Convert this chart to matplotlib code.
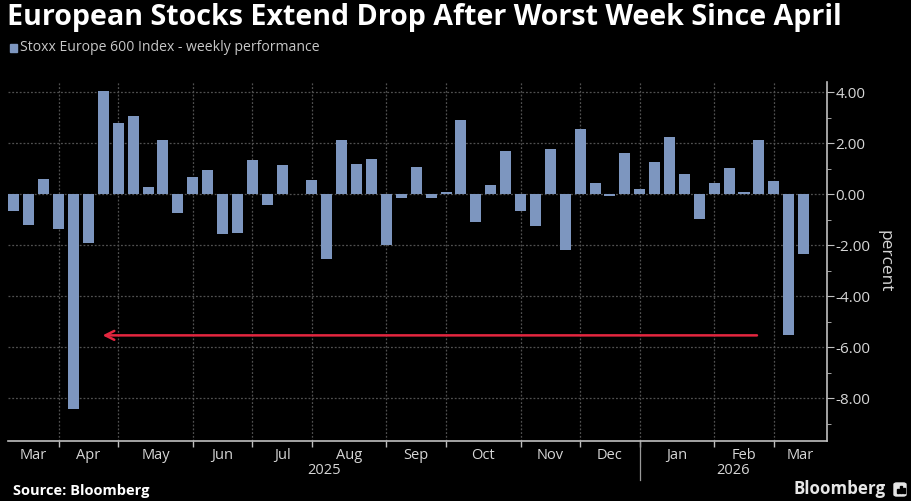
import matplotlib
matplotlib.use("Agg")
import matplotlib.pyplot as plt
import numpy as np
import pandas as pd
from matplotlib.patches import FancyBboxPatch, Rectangle

# ---------------- data ----------------
week_dates = pd.date_range("2025-03-07", "2026-03-13", freq="7D")
weekly_perf = [
    -0.65, -1.20, 0.59, -1.35, -8.42, -1.90, 4.03, 2.78, 3.07, 0.30,
    2.12, -0.72, 0.67, 0.95, -1.56, -1.53, 1.33, -0.44, 1.16, 0.03,
    0.56, -2.55, 2.12, 1.19, 1.40, -1.97, -0.14, 1.05, -0.13, 0.08,
    2.90, -1.10, 0.38, 1.70, -0.65, -1.24, 1.78, -2.20, 2.56, 0.43,
    -0.05, 1.61, 0.22, 1.28, 2.26, 0.78, -0.95, 0.44, 1.02, 0.10,
    2.12, 0.52, -5.53, -2.33,
]
month_labels = ["Mar", "Apr", "May", "Jun", "Jul", "Aug", "Sep", "Oct",
                "Nov", "Dec", "Jan", "Feb", "Mar"]
year_labels = ["2025", "2026"]
y_ticks = [4, 2, 0, -2, -4, -6, -8]
title = "European Stocks Extend Drop After Worst Week Since April"
legend_label = "Stoxx Europe 600 Index - weekly performance"
arrow_level = -5.53   # latest drop, compared with April

# ---------------- style ----------------
BG = "#000000"
BAR = "#7d96bf"
GRID = "#505050"
TXT = "#d6d6d6"
RED = "#e3263f"
FONT = ["Open Sans", "DejaVu Sans"]

fig = plt.figure(figsize=(9.12, 5.01), dpi=100, facecolor=BG)
ax = fig.add_axes([8 / 912, 1 - 441 / 501, (827 - 8) / 912, (441 - 82) / 501])
ax.set_facecolor(BG)

x = np.arange(len(weekly_perf))
ax.bar(x, weekly_perf, width=0.74, color=BAR, zorder=3)

xmin, xmax = -0.4, len(weekly_perf) + 0.57
ax.set_xlim(xmin, xmax)
ax.set_ylim(-9.67, 4.4)

# month boundaries: last weekly bar before a new month begins
months = week_dates.to_period("M")
bounds = [i for i in range(len(week_dates) - 1) if months[i + 1] != months[i]]
ax.set_xticks(bounds)
ax.set_xticklabels([])
ax.tick_params(axis="x", length=4, color="#bfbfbf", width=1, direction="out")
for b in bounds:
    ax.axvline(b, color=GRID, lw=0.9, ls=(0, (1.5, 1.5)), zorder=1)

# horizontal grid
for t in y_ticks:
    ax.axhline(t, color=GRID, lw=0.9, ls=(0, (1.5, 1.5)), zorder=1)

# y axis on right
ax.yaxis.tick_right()
ax.set_yticks(y_ticks)
ax.set_yticklabels([f"{t:.2f}" for t in y_ticks], fontsize=11, color=TXT,
                   family=FONT)
ax.set_yticks([3, 1, -1, -3, -5, -7, -9], minor=True)
ax.tick_params(axis="y", which="major", length=5, color="#bfbfbf", pad=1)
ax.tick_params(axis="y", which="minor", length=3, color="#bfbfbf")
ax.tick_params(axis="x", which="minor", length=0)

for s in ["top", "left"]:
    ax.spines[s].set_visible(False)
ax.spines["right"].set_color("#bfbfbf")
ax.spines["bottom"].set_color("#bfbfbf")
ax.spines["right"].set_linewidth(1.2)
ax.spines["bottom"].set_linewidth(1.2)

ax.set_ylabel("percent", rotation=270, color=TXT, fontsize=12.5,
              family=FONT, labelpad=16)
ax.yaxis.set_label_position("right")

# month labels centred between boundaries
edges = [xmin] + bounds + [xmax]
for i, lab in enumerate(month_labels):
    cx = (edges[i] + edges[i + 1]) / 2
    ax.text(cx, -0.02, lab, transform=ax.get_xaxis_transform(), ha="center",
            va="top", fontsize=10.5, color=TXT, family=FONT)

# year labels & separator
years = week_dates.year
year_break = [b for b in bounds if years[b + 1] != years[b]][0]
ax.text((xmin + year_break) / 2, -0.06, year_labels[0],
        transform=ax.get_xaxis_transform(), ha="center", va="top",
        fontsize=10.5, color=TXT, family=FONT)
ax.text((year_break + xmax) / 2, -0.06, year_labels[1],
        transform=ax.get_xaxis_transform(), ha="center", va="top",
        fontsize=10.5, color=TXT, family=FONT)
ax.plot([year_break, year_break], [0, -0.11], transform=ax.get_xaxis_transform(),
        color="#9a9a9a", lw=0.9, clip_on=False)

# red arrow from latest drop back to April
worst_idx = int(np.argmin(weekly_perf))
latest_drop_idx = len(weekly_perf) - 2
ax.annotate("", xy=(worst_idx + 1.95, arrow_level),
            xytext=(latest_drop_idx - 2.13, arrow_level),
            arrowprops=dict(arrowstyle="->", color=RED, lw=1.8,
                            mutation_scale=16, shrinkA=0, shrinkB=0),
            zorder=5)

# title and legend
fig.text(7 / 912, 1 - 3 / 501, title, ha="left", va="top", fontsize=20.6,
         fontweight="bold", color="white", family=FONT)
fig.patches.append(Rectangle((10 / 912, 1 - 52 / 501), 7 / 912, 8 / 501,
                             transform=fig.transFigure, color=BAR))
fig.text(20 / 912, 1 - 47.5 / 501, legend_label, ha="left", va="center",
         fontsize=10.1, color="#c8c8c8", family=FONT)

# footer
fig.text(13 / 912, 1 - 491 / 501, "Source: Bloomberg", ha="left", va="center",
         fontsize=10.5, fontweight="bold", color="white", family=FONT)
fig.text(886 / 912, 1 - 489 / 501, "Bloomberg", ha="right", va="center",
         fontsize=12.2, fontweight="bold", color="#e6e6e6", family=FONT)
fig.patches.append(FancyBboxPatch((894 / 912, 1 - 496 / 501), 12 / 912, 13 / 501,
                                  boxstyle="round,pad=0,rounding_size=0.003",
                                  transform=fig.transFigure, color="#e6e6e6"))
for dx, h in [(897, 4), (900, 7), (903, 5)]:
    fig.patches.append(Rectangle((dx / 912, 1 - 493 / 501), 1.6 / 912, h / 501,
                                 transform=fig.transFigure, color="black"))

fig.savefig("out.png", dpi=100, facecolor=BG)
